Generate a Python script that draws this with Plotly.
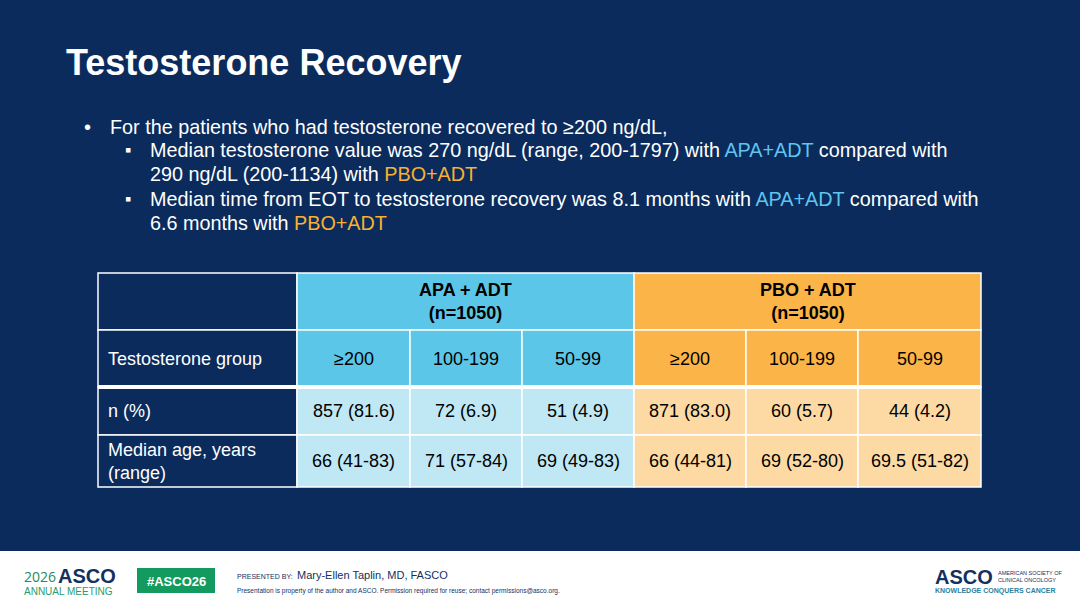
import plotly.graph_objects as go

W, H = 1080, 608
NAVY = "#0b2b5c"
APA = "#5cc6e8"
PBO = "#fbb447"
APA_LIGHT = "#bfe7f4"
PBO_LIGHT = "#fdd9a3"
APA_TXT = "#5fc5f0"
PBO_TXT = "#f8b230"

title = "Testosterone Recovery"
arms = ["APA + ADT<br>(n=1050)", "PBO + ADT<br>(n=1050)"]
groups = ["≥200", "100-199", "50-99", "≥200", "100-199", "50-99"]
row_labels = ["Testosterone group", "n (%)", "Median age, years<br>(range)"]
n_pct = ["857 (81.6)", "72 (6.9)", "51 (4.9)", "871 (83.0)", "60 (5.7)", "44 (4.2)"]
med_age = ["66 (41-83)", "71 (57-84)", "69 (49-83)", "66 (44-81)", "69 (52-80)", "69.5 (51-82)"]

apa = f"<span style='color:{APA_TXT}'>APA+ADT</span>"
pbo = f"<span style='color:{PBO_TXT}'>PBO+ADT</span>"
bullets = [
    (82, 108, 127, "•", "For the patients who had testosterone recovered to ≥200 ng/dL,"),
    (123, 148, 150, "▪", f"Median testosterone value was 270 ng/dL (range, 200-1797) with {apa} compared with"),
    (None, 148, 174, "", f"290 ng/dL (200-1134) with {pbo}"),
    (123, 148, 199, "▪", f"Median time from EOT to testosterone recovery was 8.1 months with {apa} compared with"),
    (None, 148, 223, "", f"6.6 months with {pbo}"),
]

col_x = [98, 297, 410, 522, 634, 746, 858, 981]
row_y = [273, 330, 387, 435, 487]

fig = go.Figure()
shapes = []
ann = []


def rect(x0, y0, x1, y1, fill, lw=1.5):
    shapes.append(dict(type="rect", x0=x0, y0=y0, x1=x1, y1=y1, fillcolor=fill,
                       line=dict(color="white", width=lw), layer="below"))


def text(x, y, s, size=18, color="black", anchor="center", bold=False, family="Liberation Sans"):
    if bold:
        s = f"<b>{s}</b>"
    ann.append(dict(x=x, y=y, text=s, showarrow=False, xanchor=anchor, yanchor="middle",
                    font=dict(size=size, color=color, family=family), align="left" if anchor == "left" else "center"))


# background and footer
rect(0, 0, W, 551, NAVY, 0)
rect(0, 551, W, H, "white", 0)

text(64, 62, title, size=36, color="white", anchor="left", bold=True)
for bx, tx, y, b, s in bullets:
    if b:
        text(bx, y, b, size=18 if b == "▪" else 20, color="white", anchor="left")
    text(tx, y, s, size=19.8, color="white", anchor="left")

# table
rect(col_x[0], row_y[0], col_x[1], row_y[1], NAVY)
rect(col_x[1], row_y[0], col_x[4], row_y[1], APA)
rect(col_x[4], row_y[0], col_x[7], row_y[1], PBO)
text((col_x[1] + col_x[4]) / 2, (row_y[0] + row_y[1]) / 2, arms[0], bold=True)
text((col_x[4] + col_x[7]) / 2, (row_y[0] + row_y[1]) / 2, arms[1], bold=True)

rows = [groups, n_pct, med_age]
for r, vals in enumerate(rows):
    y0, y1 = row_y[r + 1], row_y[r + 2]
    rect(col_x[0], y0, col_x[1], y1, NAVY)
    text(col_x[0] + 8, (y0 + y1) / 2, row_labels[r], color="white", anchor="left")
    for c, v in enumerate(vals):
        if r == 0:
            fill = APA if c < 3 else PBO
        else:
            fill = APA_LIGHT if c < 3 else PBO_LIGHT
        rect(col_x[c + 1], y0, col_x[c + 2], y1, fill)
        text((col_x[c + 1] + col_x[c + 2]) / 2, (y0 + y1) / 2, v)
shapes.append(dict(type="line", x0=col_x[0], x1=col_x[7], y0=row_y[2], y1=row_y[2],
                   line=dict(color="white", width=4)))

# footer
text(22, 576, "2026", size=14, color="#1f8a5a", anchor="left", family="Open Sans")
text(56, 576, "<b>ASCO</b>", size=20, color="#14305f", anchor="left")
text(22, 591, "ANNUAL MEETING", size=10, color="#2b9a6a", anchor="left")
rect(137, 568, 215, 593, "#139a5e", 0)
text(176, 581, "<b>#ASCO26</b>", size=13, color="white")
text(235, 576, "PRESENTED BY:", size=7, color="#14305f", anchor="left")
text(295, 575, "Mary-Ellen Taplin, MD, FASCO", size=11, color="#14305f", anchor="left")
text(235, 591, "Presentation is property of the author and ASCO. Permission required for reuse; contact permissions@asco.org.",
     size=6.5, color="#14305f", anchor="left")
text(933, 577, "<b>ASCO</b>", size=20, color="#14305f", anchor="left")
text(996, 576, "AMERICAN SOCIETY OF<br>CLINICAL ONCOLOGY", size=5.5, color="#14305f", anchor="left")
text(933, 591, "<b>KNOWLEDGE CONQUERS CANCER</b>", size=7, color="#2a7fa0", anchor="left")

fig.update_layout(
    width=W, height=H, margin=dict(l=0, r=0, t=0, b=0),
    paper_bgcolor="white", plot_bgcolor="white", showlegend=False,
    xaxis=dict(range=[0, W], visible=False, fixedrange=True),
    yaxis=dict(range=[H, 0], visible=False, fixedrange=True),
    shapes=shapes, annotations=ann,
)
fig.write_html("out.html", config={"displayModeBar": False},
               post_script="document.body.style.margin='0';document.body.style.overflow='hidden';")
